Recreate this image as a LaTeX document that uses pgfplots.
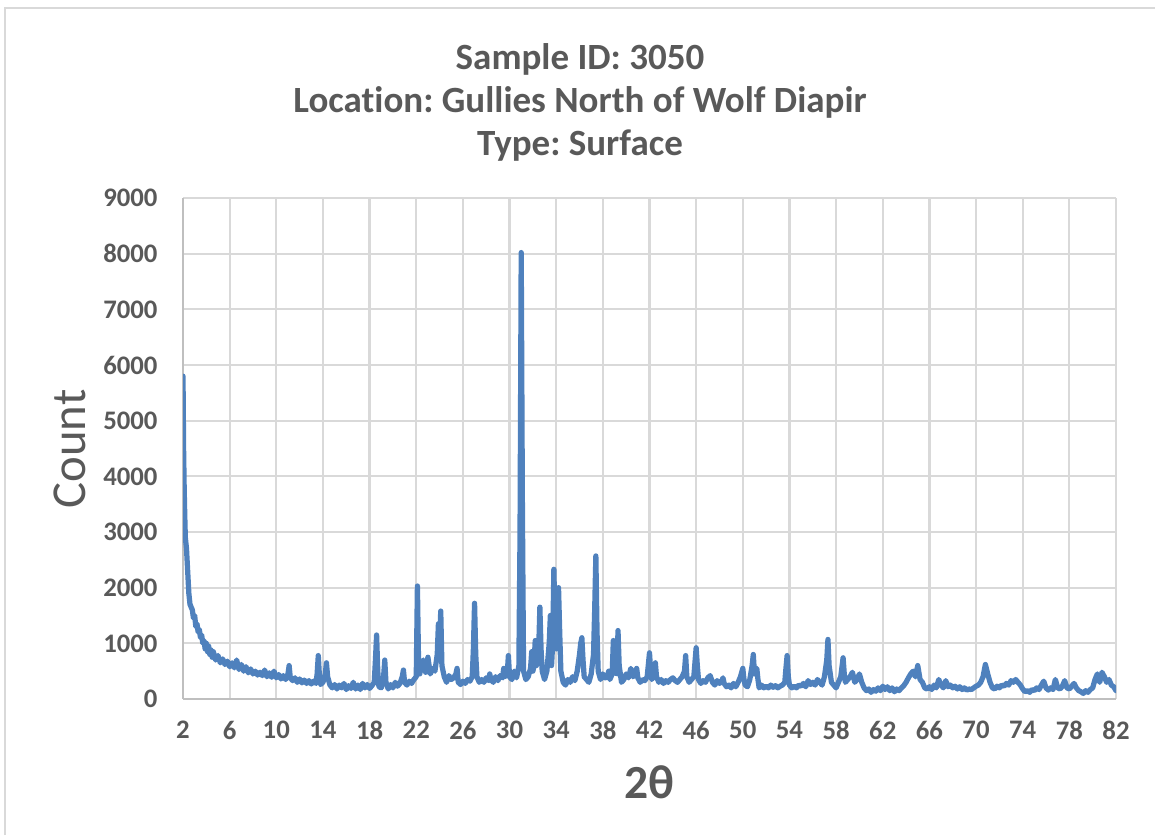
\documentclass[border=0pt]{standalone}
\usepackage{pgfplots}
\pgfplotsset{compat=1.18}
\usepackage{fontspec}
\setmainfont{Carlito}[Ligatures=NoCommon]
\frenchspacing
\definecolor{txt}{HTML}{595959}
\definecolor{grd}{HTML}{D9D9D9}
\definecolor{axl}{HTML}{BFBFBF}
\definecolor{ser}{HTML}{4F81BD}
\begin{document}
\begin{tikzpicture}
\useasboundingbox (0,0) rectangle (462pt,334pt);
\draw[grd, line width=0.8pt] (2pt,0) -- (2pt,330.8pt) -- (462pt,330.8pt);
\begin{axis}[
  at={(73.2pt,54.4pt)}, anchor=south west,
  scale only axis, width=373.2pt, height=200.4pt,
  xmin=2, xmax=82, ymin=0, ymax=9000,
  xtick={2,6,...,82}, ytick={0,1000,...,9000},
  scaled y ticks=false,
  /pgf/number format/assume math mode=true,
  /pgf/number format/1000 sep={},
  major tick length=0pt,
  grid=major, grid style={draw=grd, line width=0.9pt},
  axis x line*=bottom, axis y line*=left,
  x axis line style={draw=axl, line width=1pt, -},
  y axis line style={draw=axl, line width=0.9pt, -},
  tick label style={font=\fontsize{10.7}{12}\selectfont\bfseries, text=txt},
  xticklabel style={inner sep=0pt, anchor=north, yshift=-8.6pt},
  yticklabel style={inner sep=0pt, anchor=east, xshift=-10pt},
  clip=true,
]
\addplot[ser, line width=2.1pt, line join=round, line cap=round] coordinates {
(2.00,5800)(2.05,4500)(2.10,3800)(2.15,3300)(2.20,2900)(2.30,2700)(2.40,2300)(2.50,1900)(2.60,1700)(2.70,1650)
(2.80,1600)(2.90,1450)(3.00,1500)(3.10,1300)(3.20,1350)(3.30,1200)(3.40,1250)(3.50,1100)(3.60,1150)(3.70,1000)
(3.80,1050)(3.90,900)(4.00,1000)(4.1,850)(4.2,950)(4.3,800)(4.4,880)(4.5,750)(4.6,850)(4.8,700)
(5.0,780)(5.2,650)(5.4,720)(5.6,620)(5.8,680)(6.0,580)(6.2,650)(6.4,560)(6.6,700)(6.8,530)
(7.0,620)(7.2,500)(7.4,580)(7.6,470)(7.8,540)(8.0,450)(8.2,500)(8.4,430)(8.6,480)(8.8,420)
(9.0,520)(9.2,400)(9.4,470)(9.6,390)(9.8,500)(10.0,380)(10.2,440)(10.4,360)(10.6,420)(10.8,350)
(11.0,450)(11.1,600)(11.2,380)(11.4,330)(11.6,380)(11.8,300)(12.0,360)(12.2,290)(12.4,340)(12.6,280)
(12.8,330)(13.0,270)(13.2,320)(13.4,280)(13.5,450)(13.6,780)(13.7,400)(13.8,260)(14.0,300)(14.2,450)
(14.3,650)(14.4,400)(14.6,250)(14.8,200)(15.0,260)(15.2,180)(15.4,250)(15.6,200)(15.8,280)(16.0,170)
(16.2,240)(16.4,190)(16.6,300)(16.8,180)(17.0,250)(17.2,170)(17.4,280)(17.6,200)(17.8,260)(18.0,190)
(18.2,240)(18.4,300)(18.5,700)(18.6,1150)(18.7,500)(18.8,220)(19.0,200)(19.2,400)(19.3,700)(19.4,300)
(19.6,180)(19.8,260)(20.0,200)(20.2,300)(20.4,230)(20.6,280)(20.8,400)(20.9,520)(21.0,300)(21.2,250)
(21.4,320)(21.6,280)(21.8,350)(22.0,400)(22.1,2030)(22.2,600)(22.3,450)(22.4,600)(22.6,700)(22.8,480)
(23.0,750)(23.1,600)(23.2,450)(23.4,550)(23.6,500)(23.8,800)(23.9,1350)(24.0,1000)(24.1,1580)(24.2,600)
(24.4,400)(24.6,300)(24.8,420)(25.0,350)(25.2,380)(25.4,450)(25.5,550)(25.6,300)(25.8,260)(26.0,320)
(26.2,280)(26.4,350)(26.6,320)(26.8,400)(26.9,900)(27.0,1720)(27.1,800)(27.2,400)(27.4,300)(27.6,350)
(27.8,300)(28.0,380)(28.2,330)(28.3,450)(28.4,350)(28.6,300)(28.8,400)(29.0,330)(29.2,420)(29.4,380)
(29.5,550)(29.6,400)(29.8,450)(29.9,780)(30.0,400)(30.2,350)(30.4,500)(30.6,380)(30.8,600)(30.9,3000)
(31.0,8020)(31.1,3500)(31.2,500)(31.4,350)(31.6,400)(31.8,550)(31.9,850)(32.0,500)(32.1,600)(32.2,1050)
(32.3,600)(32.5,900)(32.6,1650)(32.7,900)(32.8,500)(33.0,350)(33.2,500)(33.4,1000)(33.5,1500)(33.6,600)
(33.7,1000)(33.8,2330)(33.9,1300)(34.0,900)(34.1,1400)(34.2,2000)(34.3,1200)(34.4,500)(34.6,300)(34.8,250)
(35.0,350)(35.2,300)(35.4,400)(35.6,330)(35.8,500)(36.0,800)(36.1,1000)(36.2,1100)(36.3,700)(36.4,400)
(36.6,350)(36.8,300)(37.0,450)(37.2,800)(37.3,1600)(37.4,2570)(37.5,1200)(37.6,500)(37.8,350)(38.0,450)
(38.2,380)(38.4,400)(38.5,500)(38.6,350)(38.8,450)(38.9,1050)(39.0,500)(39.2,450)(39.3,1230)(39.4,600)
(39.6,300)(39.8,350)(40.0,450)(40.2,380)(40.4,550)(40.6,400)(40.8,450)(40.9,550)(41.0,380)(41.2,300)
(41.4,350)(41.6,330)(41.8,400)(42.0,830)(42.1,500)(42.2,350)(42.4,450)(42.5,650)(42.6,400)(42.8,300)
(43.0,350)(43.2,280)(43.4,330)(43.6,300)(43.8,350)(44.0,380)(44.2,330)(44.4,300)(44.6,350)(44.8,400)
(45.0,500)(45.1,780)(45.2,400)(45.4,300)(45.6,350)(45.8,400)(46.0,920)(46.1,600)(46.2,350)(46.4,280)
(46.6,330)(46.8,300)(47.0,380)(47.2,420)(47.4,300)(47.6,250)(47.8,330)(48.0,280)(48.2,320)(48.3,380)
(48.4,280)(48.6,220)(48.8,250)(49.0,200)(49.2,280)(49.4,220)(49.6,300)(49.8,400)(50.0,550)(50.1,350)
(50.2,250)(50.4,220)(50.6,350)(50.8,600)(50.9,800)(51.0,450)(51.2,550)(51.3,350)(51.4,200)(51.6,250)
(51.8,200)(52.0,230)(52.2,200)(52.4,250)(52.6,210)(52.8,240)(53.0,200)(53.2,230)(53.4,250)(53.6,300)
(53.7,550)(53.8,780)(53.9,400)(54.0,250)(54.2,200)(54.4,230)(54.6,200)(54.8,250)(55.0,230)(55.2,280)
(55.4,220)(55.6,330)(55.8,260)(56.0,300)(56.2,250)(56.4,350)(56.6,300)(56.8,250)(57.0,400)(57.2,700)
(57.3,1070)(57.4,600)(57.6,300)(57.8,250)(58.0,200)(58.2,300)(58.4,400)(58.6,740)(58.7,450)(58.8,300)
(59.0,350)(59.2,400)(59.4,480)(59.6,300)(59.8,350)(60.0,450)(60.2,300)(60.4,200)(60.6,150)(60.8,180)
(61.0,120)(61.2,170)(61.4,140)(61.6,200)(61.8,150)(62.0,230)(62.2,170)(62.4,220)(62.6,150)(62.8,200)
(63.0,130)(63.2,180)(63.4,150)(63.6,200)(63.8,240)(64.0,300)(64.2,380)(64.4,450)(64.6,500)(64.8,400)
(65.0,600)(65.2,350)(65.4,300)(65.6,200)(65.8,180)(66.0,220)(66.2,170)(66.4,250)(66.6,200)(66.8,350)
(67.0,250)(67.2,200)(67.4,330)(67.6,220)(67.8,250)(68.0,200)(68.2,230)(68.4,180)(68.6,220)(68.8,170)
(69.0,200)(69.2,160)(69.4,180)(69.6,170)(69.8,200)(70.0,230)(70.2,250)(70.4,300)(70.6,400)(70.8,620)
(71.0,450)(71.2,300)(71.4,200)(71.6,180)(71.8,230)(72.0,200)(72.2,250)(72.4,230)(72.6,280)(72.8,250)
(73.0,330)(73.2,300)(73.4,350)(73.6,300)(73.8,250)(74.0,180)(74.2,130)(74.4,150)(74.6,120)(74.8,170)
(75.0,150)(75.2,200)(75.4,170)(75.6,250)(75.8,320)(76.0,200)(76.2,160)(76.4,200)(76.6,170)(76.8,350)
(77.0,200)(77.2,180)(77.4,230)(77.6,330)(77.8,200)(78.0,180)(78.2,230)(78.4,280)(78.6,200)(78.8,150)
(79.0,130)(79.2,100)(79.4,150)(79.6,120)(79.8,170)(80.0,200)(80.2,350)(80.4,450)(80.6,300)(80.8,480)
(81.0,400)(81.2,300)(81.4,350)(81.6,250)(81.8,220)(82.0,150)
};
\end{axis}
\node[anchor=base, text=txt, font=\fontsize{14.8}{16}\selectfont\bfseries] at (232pt,306pt) {Sample ID: 3050};
\node[anchor=base, text=txt, font=\fontsize{14.8}{16}\selectfont\bfseries] at (232pt,289pt) {Location: Gullies North of Wolf Diapir};
\node[anchor=base, text=txt, font=\fontsize{14.8}{16}\selectfont\bfseries] at (232pt,271.8pt) {Type: Surface};
\node[rotate=90, text=txt, font=\fontsize{19.5}{21}\selectfont] at (28pt,154.4pt) {Count};
\node[text=txt, font=\fontsize{19}{21}\selectfont\bfseries] at (259.6pt,21.2pt) {2θ};
\end{tikzpicture}
\end{document}
